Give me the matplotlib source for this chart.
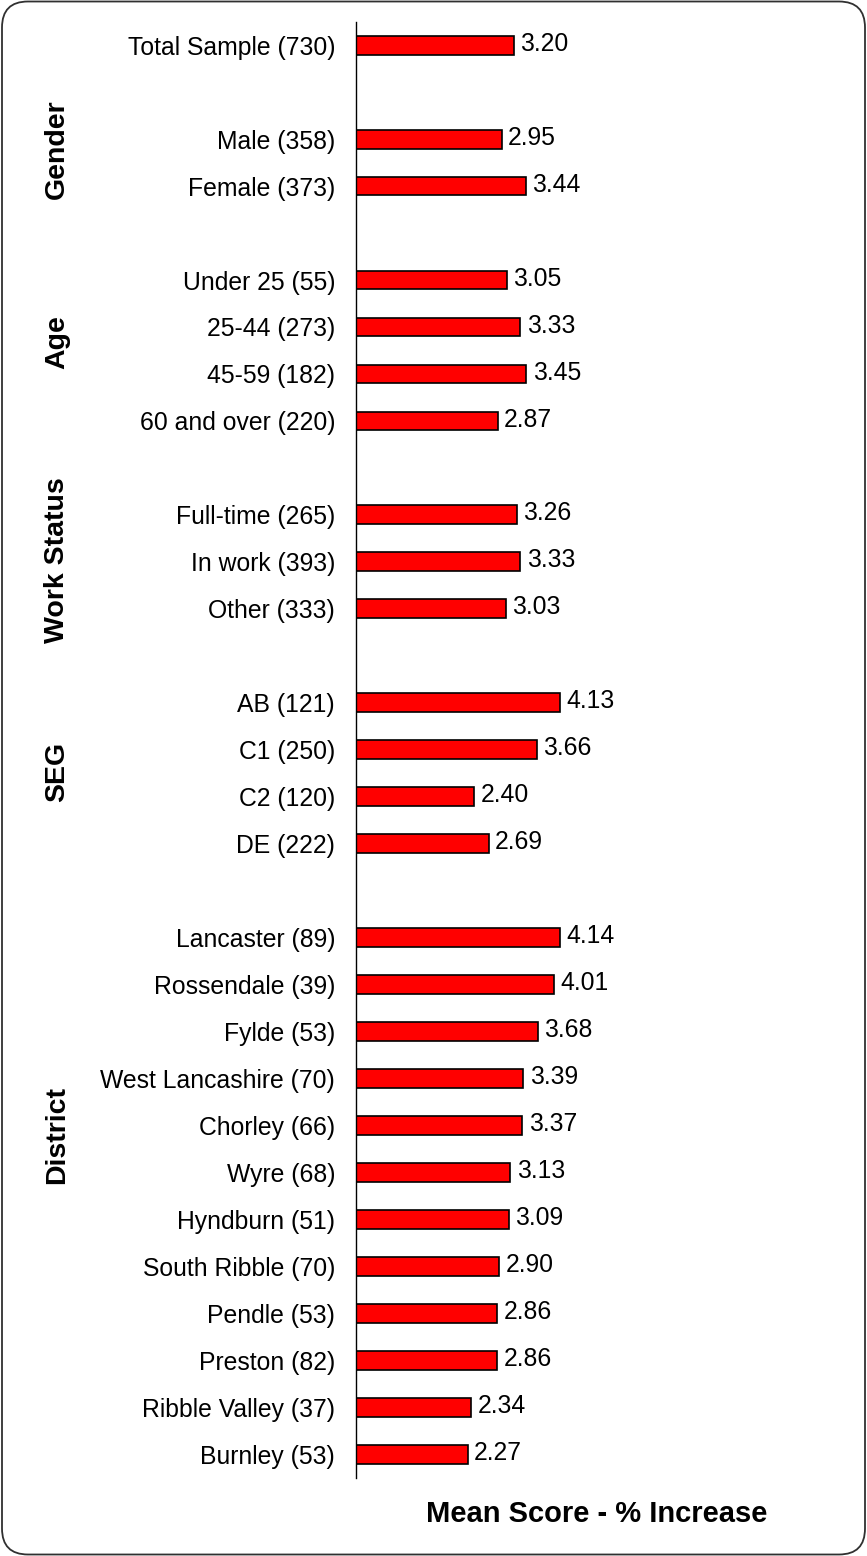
import matplotlib
matplotlib.use("Agg")
import matplotlib.pyplot as plt
from matplotlib.patches import FancyBboxPatch

plt.rcParams['font.family'] = ['Liberation Sans', 'DejaVu Sans']

# mean score (% increase) by sub-group, sample size in brackets
total_labels = ['Total Sample (730)']
total_values = [3.20]

gender_labels = ['Male (358)', 'Female (373)']
gender_values = [2.95, 3.44]

age_labels = ['Under 25 (55)', '25-44 (273)', '45-59 (182)', '60 and over (220)']
age_values = [3.05, 3.33, 3.45, 2.87]

work_labels = ['Full-time (265)', 'In work (393)', 'Other (333)']
work_values = [3.26, 3.33, 3.03]

seg_labels = ['AB (121)', 'C1 (250)', 'C2 (120)', 'DE (222)']
seg_values = [4.13, 3.66, 2.40, 2.69]

district_labels = ['Lancaster (89)', 'Rossendale (39)', 'Fylde (53)',
                   'West Lancashire (70)', 'Chorley (66)', 'Wyre (68)',
                   'Hyndburn (51)', 'South Ribble (70)', 'Pendle (53)',
                   'Preston (82)', 'Ribble Valley (37)', 'Burnley (53)']
district_values = [4.14, 4.01, 3.68, 3.39, 3.37, 3.13, 3.09, 2.90, 2.86,
                   2.86, 2.34, 2.27]

group_names = ['', 'Gender', 'Age', 'Work Status', 'SEG', 'District']
groups = [(total_labels, total_values), (gender_labels, gender_values),
          (age_labels, age_values), (work_labels, work_values),
          (seg_labels, seg_values), (district_labels, district_values)]

# one empty row between groups
labels, values, rows, group_rows = [], [], [], []
row = 0
for lab, val in groups:
    start = row
    for l, v in zip(lab, val):
        labels.append(l)
        values.append(v)
        rows.append(row)
        row += 1
    group_rows.append((start, row - 1))
    row += 1
last_row = rows[-1]

W, H = 867, 1556
fig = plt.figure(figsize=(W / 100, H / 100), dpi=100)

# rounded frame round the whole chart
bg = fig.add_axes([0, 0, 1, 1])
bg.set_xlim(0, W)
bg.set_ylim(H, 0)
bg.axis('off')
bg.add_patch(FancyBboxPatch((2, 1.5), W - 4, H - 3,
                            boxstyle='round,pad=0,rounding_size=26',
                            facecolor='white', edgecolor='#303030', lw=1.3))

ax_left, ax_top, ax_bottom = 355.7, 21.7, 1477.7
ax = fig.add_axes([ax_left / W, 1 - ax_bottom / H, 494.5 / W,
                   (ax_bottom - ax_top) / H])
ax.patch.set_alpha(0)

ax.barh(rows, values, height=0.4, color='#FF0000', edgecolor='black',
        linewidth=1.2, zorder=2)
for r, v in zip(rows, values):
    ax.annotate(f'{v:.2f}', (v, r), xytext=(4.5, 1), textcoords='offset points',
                ha='left', va='center', fontsize=17.8)

ax.set_xlim(0, 10)
ax.set_ylim(last_row + 0.5, -0.5)
ax.set_yticks(rows)
ax.set_yticklabels(labels, fontsize=17.8)
ax.tick_params(axis='y', length=0, pad=14.9)
ax.set_xticks([])
for side in ['top', 'right', 'bottom']:
    ax.spines[side].set_visible(False)
ax.spines['left'].set_linewidth(1.0)

# vertical group headings, nudged from the group middle
nudge = [0, -0.28, -0.17, -0.03, -0.02, -1.3]
for name, (a, b), dy in zip(group_names, group_rows, nudge):
    if not name:
        continue
    y_mid = (a + b) / 2 + dy
    y_px = ax_top + (y_mid + 0.5) / (last_row + 1) * (ax_bottom - ax_top)
    fig.text(57 / W, 1 - y_px / H, name, rotation=90, ha='center',
             va='center', fontsize=20.5, fontweight='bold')

fig.text(597 / W, 1 - 1521.7 / H, 'Mean Score - % Increase', ha='center',
         va='baseline', fontsize=21, fontweight='bold')

fig.savefig('out.png', dpi=100)
